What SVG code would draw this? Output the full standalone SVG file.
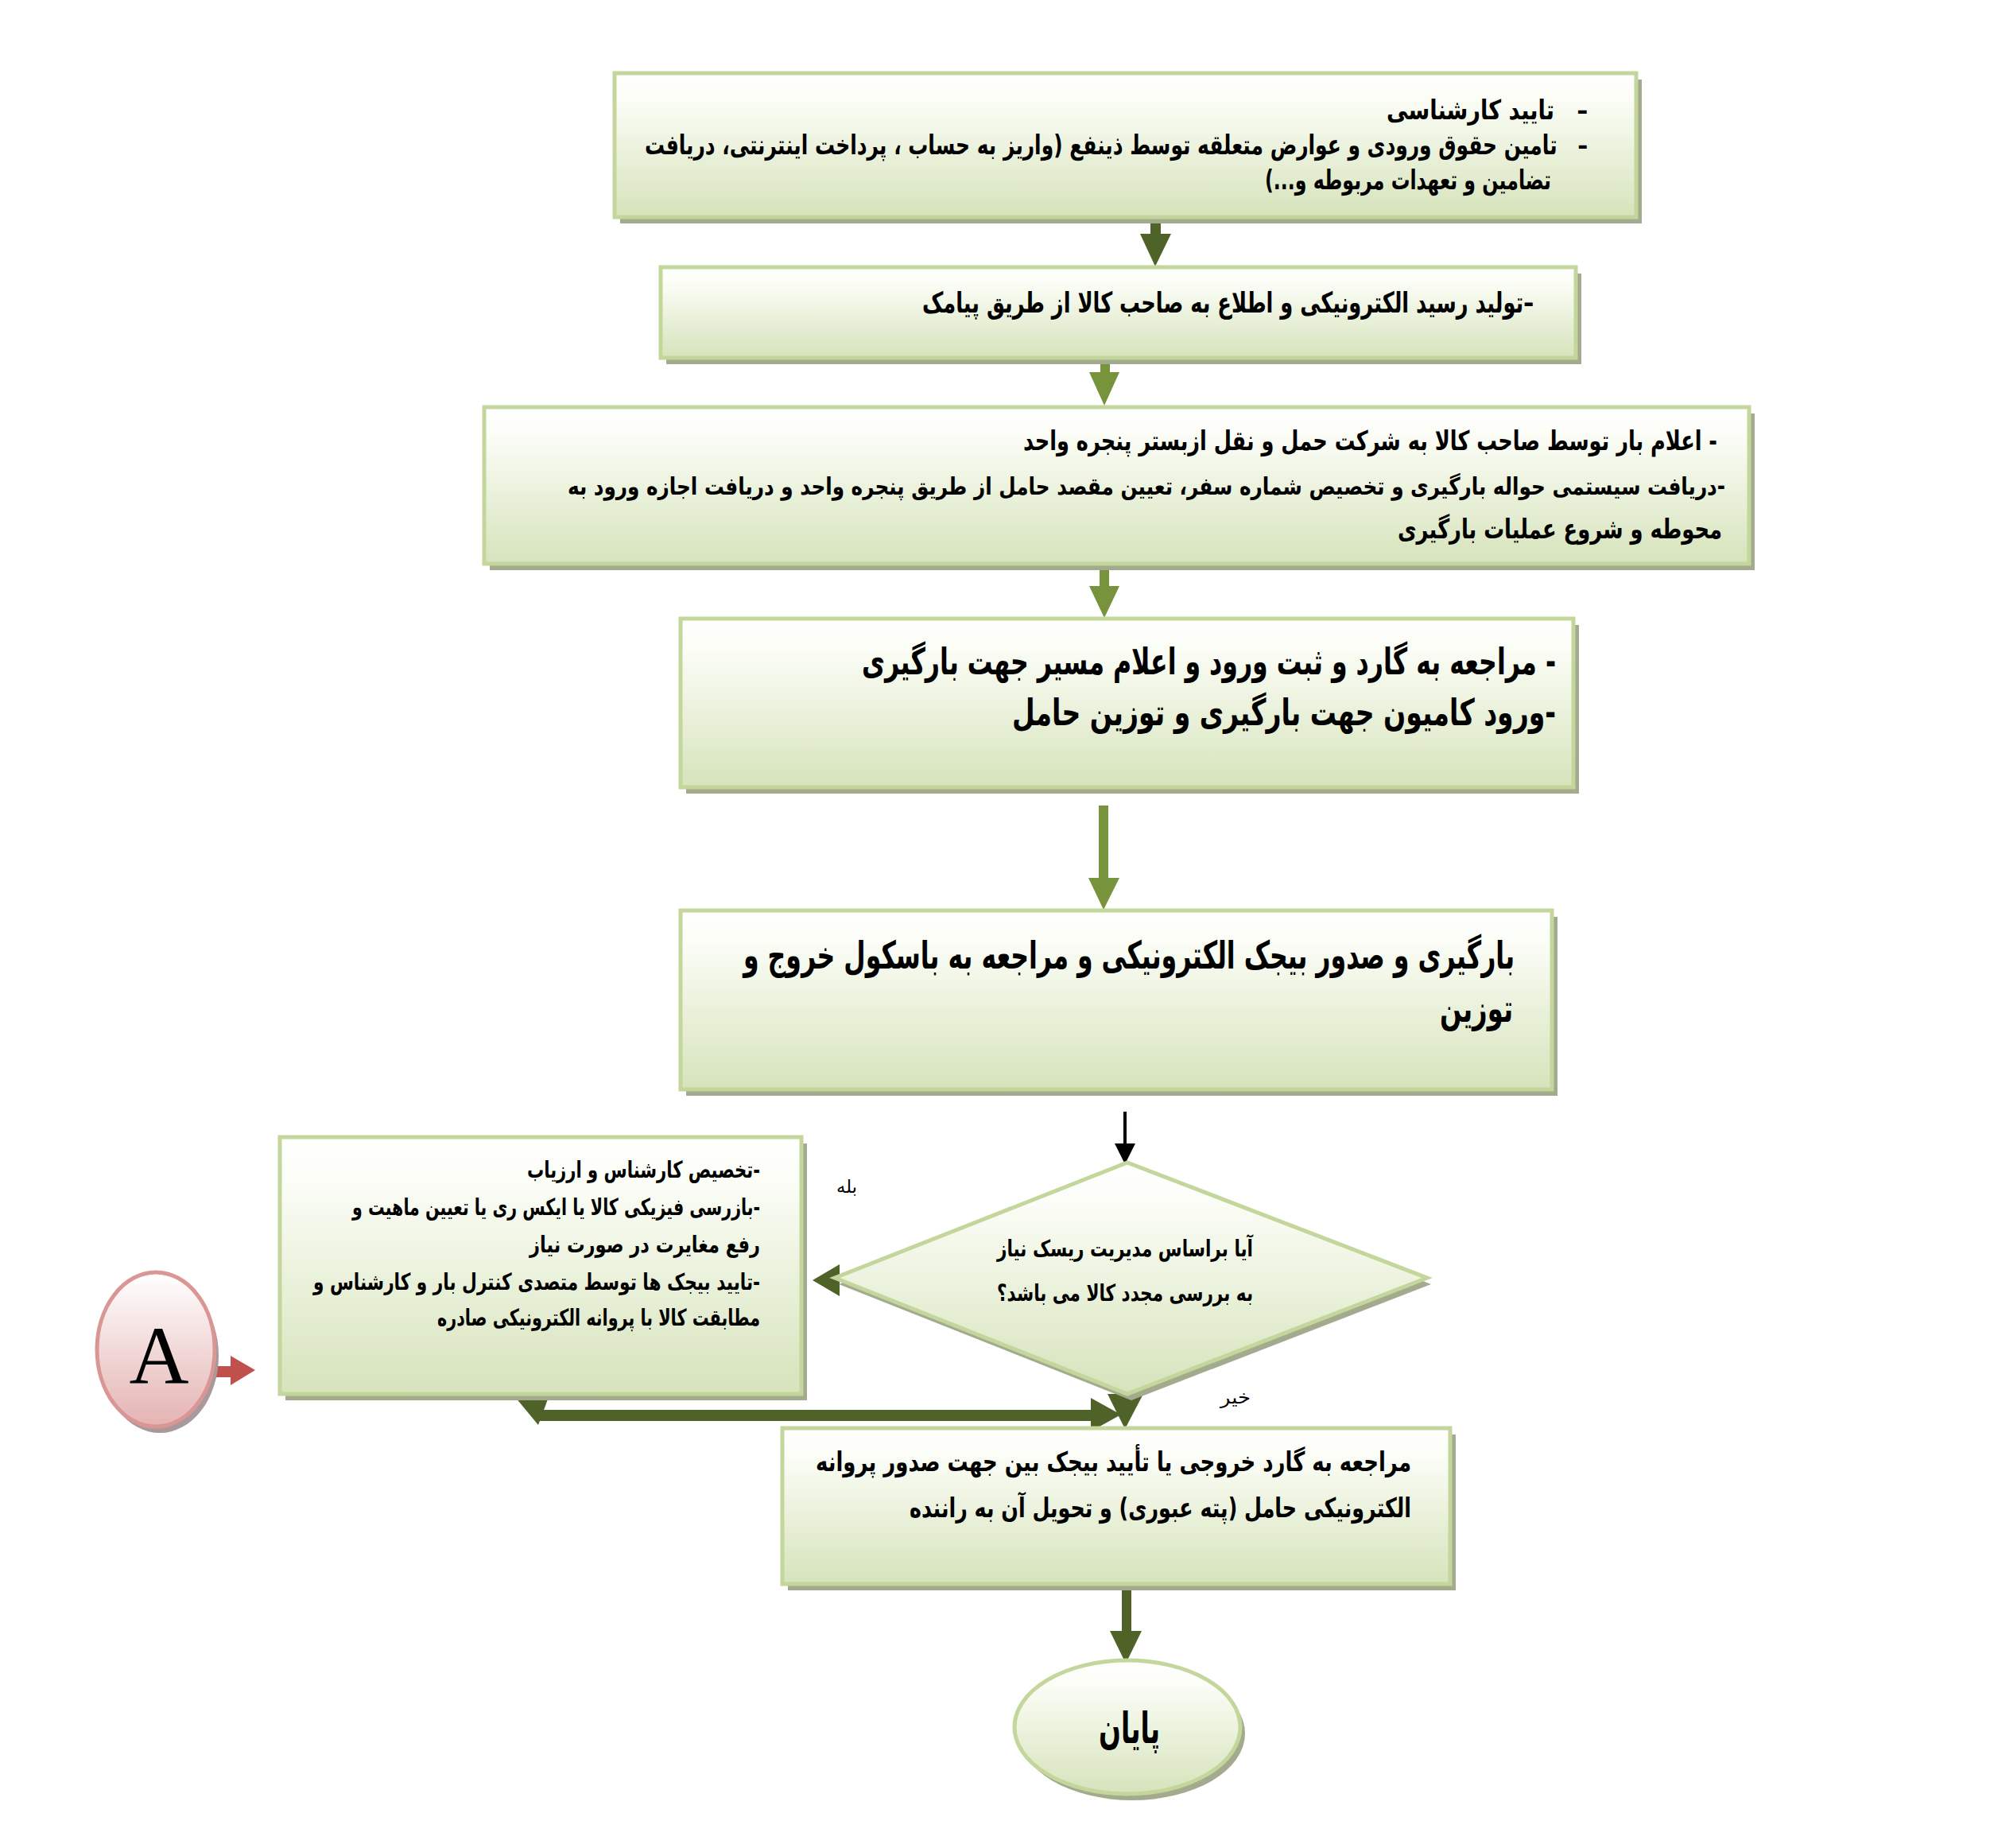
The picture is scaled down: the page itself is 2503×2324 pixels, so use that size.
<svg xmlns="http://www.w3.org/2000/svg" width="2503" height="2324" viewBox="0 0 2503 2324">
<defs>
<linearGradient id="gg" x1="0" y1="0" x2="0" y2="1">
<stop offset="0" stop-color="#ffffff"/>
<stop offset="0.18" stop-color="#fbfdf6"/>
<stop offset="1" stop-color="#d6e3bb"/>
</linearGradient>
<linearGradient id="pg" x1="0" y1="0" x2="0" y2="1">
<stop offset="0" stop-color="#ffffff"/>
<stop offset="1" stop-color="#e4b3b2"/>
</linearGradient>
<style>
.box{fill:url(#gg);stroke:#c3d69b;stroke-width:5}
.sh{fill:#a4aa8d}
.t{font-family:"DejaVu Sans",sans-serif;font-weight:bold;fill:#000}
.n{font-weight:normal}
.dk{fill:#4f6228}
.lg{fill:#77933c}
</style>
</defs>
<rect width="2503" height="2324" fill="#ffffff"/>

<g id="connectors">
<rect class="dk" x="1447" y="275" width="13" height="20"/>
<polygon class="dk" points="1434,294 1473,294 1453,335"/>
<rect class="lg" x="1384" y="455" width="12" height="14"/>
<polygon class="lg" points="1370,468 1408,468 1389,510"/>
<rect class="lg" x="1383" y="712" width="12" height="26"/>
<polygon class="lg" points="1370,737 1408,737 1389,777"/>
<rect class="lg" x="1382" y="1013" width="12" height="92"/>
<polygon class="lg" points="1369,1104 1408,1104 1388,1144"/>
<line x1="1415" y1="1398" x2="1415" y2="1440" stroke="#000" stroke-width="4"/>
<polygon points="1402,1438 1428,1438 1415,1464" fill="#000"/>
<polygon class="dk" points="1022,1610 1056,1590 1056,1630"/>
<polygon class="dk" points="648,1757 690,1757 677,1792"/>
<rect class="dk" x="677" y="1773" width="698" height="14"/>
<polygon class="dk" points="1372,1758 1372,1800 1410,1779"/>
<polygon class="dk" points="1393,1753 1438,1753 1415,1797"/>
<rect class="dk" x="1411" y="1995" width="12" height="57"/>
<polygon class="dk" points="1396,2051 1436,2051 1416,2092"/>
<rect x="271" y="1718" width="21" height="14" fill="#c0504d"/>
<polygon points="290,1705 290,1742 321,1723" fill="#c0504d"/>
</g>

<g id="n1">
<rect class="sh" x="780" y="100" width="1285" height="181"/>
<rect class="box" x="773" y="92" width="1285" height="181"/>
<text class="t" x="1744" y="150" font-size="34" textLength="253" lengthAdjust="spacingAndGlyphs">&#8207;–&#160;&#160;&#160;تایید کارشناسی&#8207;</text>
<text class="t" x="811" y="194" font-size="34" textLength="1186" lengthAdjust="spacingAndGlyphs">&#8207;–&#160;&#160;&#160;تامین حقوق ورودی و عوارض متعلقه توسط ذینفع (واریز به حساب ، پرداخت اینترنتی، دریافت&#8207;</text>
<text class="t" x="1591" y="238" font-size="34" textLength="360" lengthAdjust="spacingAndGlyphs">&#8207;تضامین و تعهدات مربوطه و...)&#8207;</text>
</g>

<g id="n2">
<rect class="sh" x="838" y="344" width="1151" height="114"/>
<rect class="box" x="831" y="336" width="1151" height="114"/>
<text class="t" x="1160" y="393" font-size="36" textLength="769" lengthAdjust="spacingAndGlyphs">&#8207;–تولید رسید الکترونیکی  و اطلاع به صاحب کالا از طریق پیامک&#8207;</text>
</g>

<g id="n3">
<rect class="sh" x="616" y="520" width="1591" height="197"/>
<rect class="box" x="609" y="512" width="1591" height="197"/>
<text class="t" x="1287" y="566" font-size="34" textLength="873" lengthAdjust="spacingAndGlyphs">&#8207;- اعلام بار توسط صاحب کالا به شرکت حمل و نقل ازبستر پنجره واحد&#8207;</text>
<text class="t" x="714" y="622" font-size="30" textLength="1456" lengthAdjust="spacingAndGlyphs">&#8207;-دریافت سیستمی حواله بارگیری و تخصیص شماره سفر، تعیین مقصد حامل از طریق پنجره واحد و دریافت اجازه ورود به&#8207;</text>
<text class="t" x="1758" y="677" font-size="34" textLength="408" lengthAdjust="spacingAndGlyphs">&#8207;محوطه و شروع عملیات بارگیری&#8207;</text>
</g>

<g id="n4">
<rect class="sh" x="863" y="786" width="1123" height="212"/>
<rect class="box" x="856" y="778" width="1123" height="212"/>
<text class="t" x="1084" y="848" font-size="46" textLength="873" lengthAdjust="spacingAndGlyphs">&#8207;- مراجعه به گارد و ثبت ورود و اعلام مسیر جهت بارگیری&#8207;</text>
<text class="t" x="1273" y="912" font-size="46" textLength="684" lengthAdjust="spacingAndGlyphs">&#8207;-ورود کامیون جهت بارگیری و توزین حامل&#8207;</text>
</g>

<g id="n5">
<rect class="sh" x="863" y="1153" width="1096" height="225"/>
<rect class="box" x="856" y="1145" width="1096" height="225"/>
<text class="t" x="935" y="1218" font-size="48" textLength="970" lengthAdjust="spacingAndGlyphs">&#8207;بارگیری و صدور بیجک الکترونیکی و مراجعه به باسکول خروج و&#8207;</text>
<text class="t" x="1811" y="1285" font-size="48" textLength="92" lengthAdjust="spacingAndGlyphs">&#8207;توزین&#8207;</text>
</g>

<g id="n6">
<rect class="sh" x="359" y="1438" width="656" height="323"/>
<rect class="box" x="352" y="1430" width="656" height="323"/>
<text class="t" x="663" y="1481" font-size="29" textLength="293" lengthAdjust="spacingAndGlyphs">&#8207;-تخصیص کارشناس و ارزیاب&#8207;</text>
<text class="t" x="443" y="1528" font-size="29" textLength="513" lengthAdjust="spacingAndGlyphs">&#8207;-بازرسی فیزیکی کالا یا ایکس ری یا تعیین ماهیت و&#8207;</text>
<text class="t" x="666" y="1575" font-size="29" textLength="290" lengthAdjust="spacingAndGlyphs">&#8207;رفع مغایرت در صورت نیاز&#8207;</text>
<text class="t" x="394" y="1622" font-size="29" textLength="562" lengthAdjust="spacingAndGlyphs">&#8207;-تایید بیجک ها توسط متصدی کنترل بار و کارشناس و&#8207;</text>
<text class="t" x="550" y="1667" font-size="29" textLength="406" lengthAdjust="spacingAndGlyphs">&#8207;مطابقت کالا با پروانه الکترونیکی صادره&#8207;</text>
</g>

<g id="n7">
<polygon class="sh" points="1423,1470 1800,1615 1423,1761 1055,1615"/>
<polygon class="box" points="1418,1462 1795,1607 1418,1753 1050,1607"/>
<text class="t" x="1254" y="1580" font-size="29" textLength="322" lengthAdjust="spacingAndGlyphs">&#8207;آیا براساس مدیریت ریسک نیاز&#8207;</text>
<text class="t" x="1254" y="1636" font-size="29" textLength="322" lengthAdjust="spacingAndGlyphs">&#8207;به بررسی مجدد کالا می باشد؟&#8207;</text>
</g>

<g id="label-yes">
<text class="t n" x="1052" y="1500" font-size="23" textLength="26" lengthAdjust="spacingAndGlyphs">&#8207;بله&#8207;</text>
</g>
<g id="label-no">
<text class="t n" x="1535" y="1765" font-size="23" textLength="38" lengthAdjust="spacingAndGlyphs">&#8207;خیر&#8207;</text>
</g>

<g id="n8">
<rect class="sh" x="991" y="1804" width="840" height="196"/>
<rect class="box" x="984" y="1796" width="840" height="196"/>
<text class="t" x="1026" y="1850" font-size="34" textLength="749" lengthAdjust="spacingAndGlyphs">&#8207;مراجعه به گارد خروجی یا تأیید بیجک بین جهت صدور پروانه&#8207;</text>
<text class="t" x="1144" y="1908" font-size="34" textLength="631" lengthAdjust="spacingAndGlyphs">&#8207;الکترونیکی حامل (پته عبوری) و تحویل آن به راننده&#8207;</text>
</g>

<g id="n9">
<ellipse class="sh" cx="1424" cy="2180" rx="142" ry="84"/>
<ellipse class="box" cx="1418" cy="2172" rx="142" ry="84"/>
<text class="t" x="1382" y="2192" font-size="54" textLength="77" lengthAdjust="spacingAndGlyphs">&#8207;پایان&#8207;</text>
</g>

<g id="nA">
<ellipse cx="201" cy="1705" rx="74" ry="97" fill="#a89a9a"/>
<ellipse cx="196" cy="1697" rx="74" ry="97" fill="url(#pg)" stroke="#d99694" stroke-width="5"/>
<text x="200" y="1740" font-family="Liberation Serif, serif" font-size="104" text-anchor="middle" fill="#000">A</text>
</g>
</svg>
